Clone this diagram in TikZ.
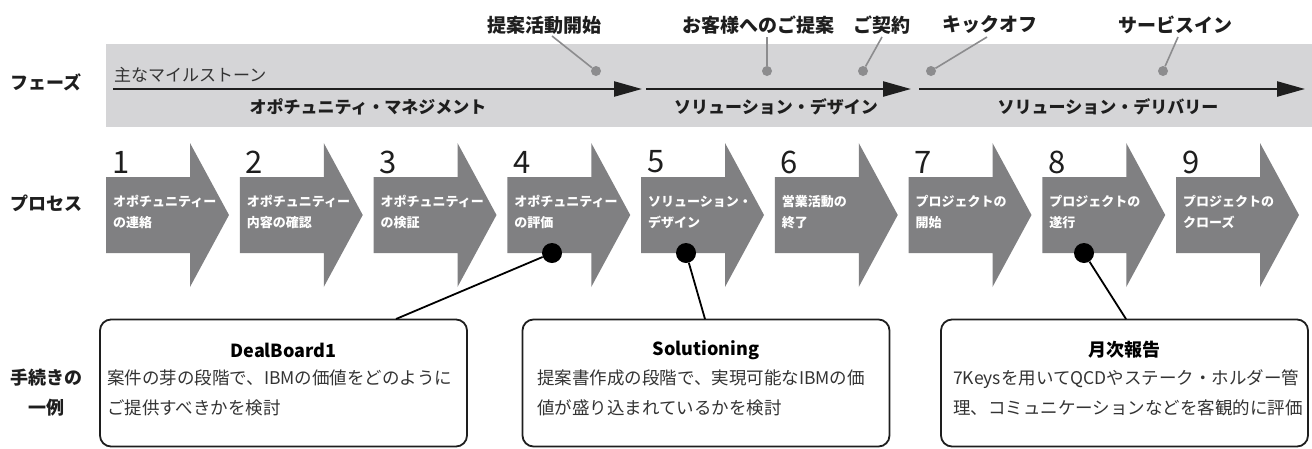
\documentclass[tikz,border=0pt]{standalone}
\usepackage{fontspec}
\setmainfont{Noto Sans CJK JP}
\usetikzlibrary{arrows.meta}
\definecolor{band}{HTML}{D5D5D7}
\definecolor{proc}{HTML}{808082}
\definecolor{mdot}{HTML}{8C8C8E}
\definecolor{ink}{HTML}{1E1E1E}
\definecolor{bodyink}{HTML}{333333}
\begin{document}
\begin{tikzpicture}[x=1pt,y=-1pt,
  lab/.style={font=\fontsize{18}{30}\selectfont\bfseries, text=ink, inner sep=0pt, align=center},
  mstext/.style={font=\fontsize{19}{22}\selectfont\bfseries, text=ink, inner sep=0pt},
  msdot/.style={circle, fill=mdot, minimum size=10pt, inner sep=0pt},
  msline/.style={draw=mdot, line width=1.6pt},
  phasearrow/.style={draw=ink, line width=2.4pt, -{Triangle[length=28pt,width=15pt]}},
  phasename/.style={font=\fontsize{17}{20}\selectfont\bfseries, text=ink, inner sep=0pt},
  minor/.style={font=\fontsize{17}{20}\selectfont, text=bodyink, inner sep=0pt, anchor=west},
  procnum/.style={font=\fontsize{31}{31}\selectfont, text=ink, inner sep=0pt, anchor=west},
  proctext/.style={font=\fontsize{13}{21}\selectfont\bfseries, text=white, inner sep=0pt, anchor=west, align=left},
  bigdot/.style={circle, fill=black, minimum size=20pt, inner sep=0pt},
  conn/.style={draw=black, line width=1.8pt},
  examplebox/.style={draw=ink, line width=1.8pt, rounded corners=11pt, minimum width=367pt, minimum height=127pt, inner sep=0pt},
  boxtitle/.style={font=\fontsize{18}{22}\selectfont\bfseries, text=black, inner sep=0pt},
  boxtext/.style={font=\fontsize{17.5}{30}\selectfont, text=bodyink, inner sep=0pt, anchor=west, align=left}
]
\useasboundingbox (0,0) rectangle (1312,448);

% phase band
\fill[band] (106,44) rectangle (1312,127);

% left labels
\node[lab] (lphase) at (46,82) {フェーズ};
\node[lab] (lproc) at (46,203) {プロセス};
\node[lab] (lex) at (46,393) {手続きの\\一例};

% milestones
\node[minor] (mmain) at (114,75) {主なマイルストーン};
\node[mstext] (m1) at (544,25) {提案活動開始};
\node[mstext] (m2) at (758,25) {お客様へのご提案};
\node[mstext] (m3) at (882,25) {ご契約};
\node[mstext] (m4) at (990,25) {キックオフ};
\node[mstext] (m5) at (1175,25) {サービスイン};
\node[msdot] (d1) at (596,71) {};
\node[msdot] (d2) at (767,71) {};
\node[msdot] (d3) at (863,71) {};
\node[msdot] (d4) at (931,71) {};
\node[msdot] (d5) at (1163,71) {};
\coordinate (e1) at (552,36);
\coordinate (e2) at (767,37);
\coordinate (e3) at (882,37);
\coordinate (e4) at (987,37);
\coordinate (e5) at (1178,37);
\foreach \k in {1,...,5} { \draw[msline] (d\k) -- (e\k); }

% phase arrows
\coordinate (p1s) at (113,89);
\coordinate (p1e) at (642,89);
\coordinate (p2s) at (646,89);
\coordinate (p2e) at (911,89);
\coordinate (p3s) at (919,89);
\coordinate (p3e) at (1305,89);
\draw[phasearrow] (p1s) -- (p1e);
\draw[phasearrow] (p2s) -- (p2e);
\draw[phasearrow] (p3s) -- (p3e);
\node[phasename] (ph1) at (368,107) {オポチュニティ・マネジメント};
\node[phasename] (ph2) at (776,107) {ソリューション・デザイン};
\node[phasename] (ph3) at (1108,107) {ソリューション・デリバリー};

% process arrows
\foreach \i/\t in {1/{オポチュニティー\\の連絡},2/{オポチュニティー\\内容の確認},3/{オポチュニティー\\の検証},4/{オポチュニティー\\の評価},5/{ソリューション・\\デザイン},6/{営業活動の\\終了},7/{プロジェクトの\\開始},8/{プロジェクトの\\遂行},9/{プロジェクトの\\クローズ}} {
  \pgfmathsetmacro\xl{106+(\i-1)*133.75}
  \fill[proc] (\xl,177) -- ({\xl+84},177) -- ({\xl+84},143) -- ({\xl+123},215) -- ({\xl+84},287) -- ({\xl+84},253) -- (\xl,253) -- cycle;
  \node[procnum] (pn\i) at ({\xl+6},162) {\i};
  \node[proctext] (pt\i) at ({\xl+7},212) {\t};
}

% example boxes
\node[examplebox] (box1) at (283.5,383) {};
\node[examplebox] (box2) at (706,383) {};
\node[examplebox] (box3) at (1124.5,383) {};
\node[boxtitle] (t1) at (283.5,350) {DealBoard1};
\node[boxtitle] (t2) at (706,350) {Solutioning};
\node[boxtitle] (t3) at (1124.5,350) {月次報告};
\node[boxtext] (x1) at (107,393) {案件の芽の段階で、IBMの価値をどのように\\ご提供すべきかを検討};
\node[boxtext] (x2) at (537,393) {提案書作成の段階で、実現可能なIBMの価\\値が盛り込まれているかを検討};
\node[boxtext] (x3) at (953,393) {7Keysを用いてQCDやステーク・ホルダー管\\理、コミュニケーションなどを客観的に評価};

% connectors
\node[bigdot] (b4) at (552,253) {};
\node[bigdot] (b5) at (686,253) {};
\node[bigdot] (b8) at (1084,253) {};
\coordinate (c1) at (396,319);
\coordinate (c2) at (705,319);
\coordinate (c3) at (1126,319);
\draw[conn] (b4) -- (c1);
\draw[conn] (b5) -- (c2);
\draw[conn] (b8) -- (c3);
\end{tikzpicture}
\end{document}
